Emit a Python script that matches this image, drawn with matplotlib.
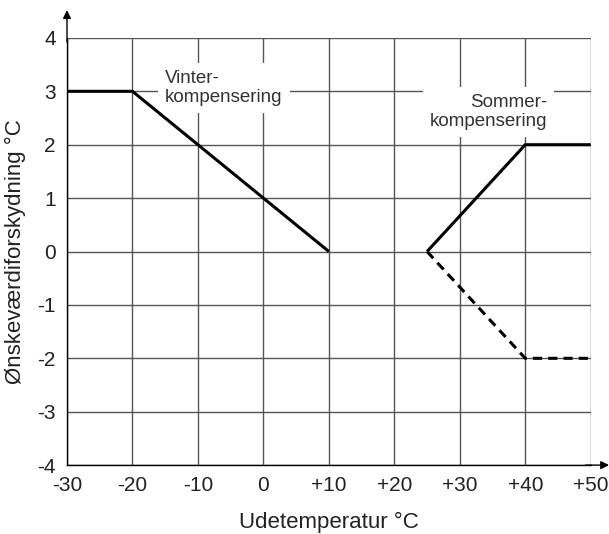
import matplotlib.pyplot as plt

plt.rcParams['font.family'] = ['Liberation Sans', 'DejaVu Sans']

# ---- data ----
x_ticks = [-30, -20, -10, 0, 10, 20, 30, 40, 50]
x_labels = ["-30", "-20", "-10", "0", "+10", "+20", "+30", "+40", "+50"]
y_ticks = [-4, -3, -2, -1, 0, 1, 2, 3, 4]
y_labels = ["-4", "-3", "-2", "-1", "0", "1", "2", "3", "4"]

winter_x = [-30, -20, 10]
winter_y = [3, 3, 0]

summer_up_x = [25, 40, 50]
summer_up_y = [0, 2, 2]

summer_down_x = [25, 40, 50]
summer_down_y = [0, -2, -2]

fig = plt.figure(figsize=(6.09, 5.34), dpi=100)
ax = fig.add_axes([0.110, 0.129, 0.860, 0.800])

ax.set_xlim(-30, 50)
ax.set_ylim(-4, 4)

# grid
ax.set_xticks(x_ticks)
ax.set_xticklabels(x_labels)
ax.set_yticks(y_ticks)
ax.set_yticklabels(y_labels)
ax.grid(True, color='#555555', linewidth=1.0, zorder=0.5)
ax.set_axisbelow(True)
ax.tick_params(length=0, labelsize=15, pad=8, colors='#222222')

for s in ['top', 'right']:
    ax.spines[s].set_visible(False)
ax.spines['left'].set_linewidth(1.0)
ax.spines['bottom'].set_linewidth(1.0)

# axis arrows
ax.annotate('', xy=(0, 1.065), xytext=(0, 0.99), xycoords='axes fraction',
            arrowprops=dict(arrowstyle='-|>', color='black', lw=1.0,
                            mutation_scale=12, shrinkA=0, shrinkB=0))
ax.annotate('', xy=(1.035, 0), xytext=(0.99, 0), xycoords='axes fraction',
            arrowprops=dict(arrowstyle='-|>', color='black', lw=1.0,
                            mutation_scale=12, shrinkA=0, shrinkB=0))

# curves
ax.plot(winter_x, winter_y, color='black', linewidth=2.2, solid_capstyle='butt', zorder=3)
ax.plot(summer_up_x, summer_up_y, color='black', linewidth=2.2, solid_capstyle='butt', zorder=3)
ax.plot(summer_down_x, summer_down_y, color='black', linewidth=2.2,
        linestyle=(0, (3, 2)), zorder=3)

# annotations (white box hides grid but not curves)
box = dict(facecolor='white', edgecolor='none', pad=5)
ax.text(-15, 3.06, "Vinter-\nkompensering", fontsize=13.5, color='#333333',
        ha='left', va='center', multialignment='left', bbox=box,
        linespacing=1.15, zorder=1.5)
ax.text(43.4, 2.61, "Sommer-\nkompensering", fontsize=13.5, color='#333333',
        ha='right', va='center', multialignment='right', bbox=box,
        linespacing=1.15, zorder=1.5)

ax.set_xlabel("Udetemperatur °C", fontsize=16, color='#222222', labelpad=12)
ax.set_ylabel("Ønskeværdiforskydning °C", fontsize=16, color='#222222', labelpad=8)

fig.savefig("out.png", dpi=100)
